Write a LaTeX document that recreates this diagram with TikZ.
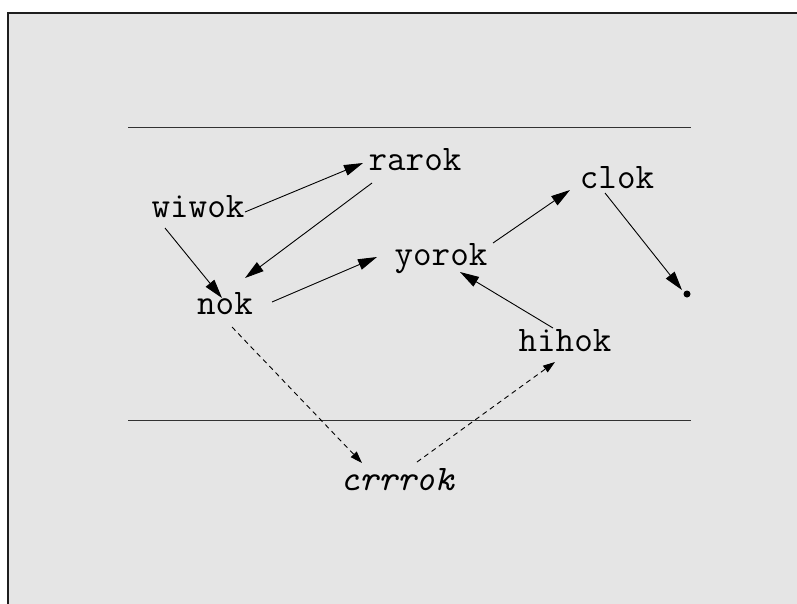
\documentclass[tikz,border=0pt]{standalone}
\usepackage{fontspec}
\usetikzlibrary{arrows.meta}
\definecolor{bggray}{RGB}{229,229,229}
\definecolor{framec}{RGB}{30,30,30}
\definecolor{rulec}{RGB}{50,50,50}
\tikzset{
  lbl/.style={anchor=base, inner sep=0pt, font=\fontsize{36}{40}\selectfont\ttfamily},
  ilbl/.style={lbl, font=\fontsize{36}{40}\selectfont\ttfamily\itshape},
  solidarrow/.style={line width=0.9pt, -{Triangle[length=19pt,width=11pt]}},
  dasharrow/.style={line width=0.9pt, dash pattern=on 5pt off 4pt, -{Triangle[length=12pt,width=8pt]}},
  rulel/.style={line width=1.3pt, draw=rulec},
}
\begin{document}
\begin{tikzpicture}[x=1pt,y=-1pt]
\useasboundingbox (0,0) rectangle (797,603);
\fill[white] (0,0) rectangle (797,603);
\fill[bggray] (8,13) rectangle (800,606);
\draw[framec, line width=1.5pt] (8,606) -- (8,13) -- (800,13);
\draw[rulel] (128,127.5) -- (691,127.5);
\draw[rulel] (128,420.5) -- (691,420.5);

\node[lbl] (wiwok) at (198,217) {wiwok};
\node[lbl] (rarok) at (415,170) {rarok};
\node[lbl] (nok) at (225,314) {nok};
\node[lbl] (yorok) at (441,265) {yorok};
\node[lbl] (clok) at (617,188) {clok};
\node[lbl] (hihok) at (565,351) {hihok};
\node[ilbl] (crrrok) at (397,490) {crrrok};
\node[circle, fill=black, inner sep=0pt, minimum size=7pt] (dot) at (687,294) {};

\draw[solidarrow] ([shift={(47,-5)}]wiwok.base) -- ([shift={(-52,-7)}]rarok.base);
\draw[solidarrow] ([shift={(-43,13)}]rarok.base) -- ([shift={(20,-36)}]nok.base);
\draw[solidarrow] ([shift={(-33,11)}]wiwok.base) -- ([shift={(-3,-16)}]nok.base);
\draw[solidarrow] ([shift={(47,-12)}]nok.base) -- ([shift={(-64,-8)}]yorok.base);
\draw[solidarrow] ([shift={(-12,-23)}]hihok.base) -- ([shift={(19,7)}]yorok.base);
\draw[solidarrow] ([shift={(52,-22)}]yorok.base) -- ([shift={(-47,2)}]clok.base);
\draw[solidarrow] ([shift={(-12,5)}]clok.base) -- ([shift={(-5,-4)}]dot.center);
\draw[dasharrow] ([shift={(7,13)}]nok.base) -- ([shift={(-35,-27)}]crrrok.base);
\draw[dasharrow] ([shift={(20,-28)}]crrrok.base) -- ([shift={(-10,11)}]hihok.base);
\end{tikzpicture}
\end{document}
